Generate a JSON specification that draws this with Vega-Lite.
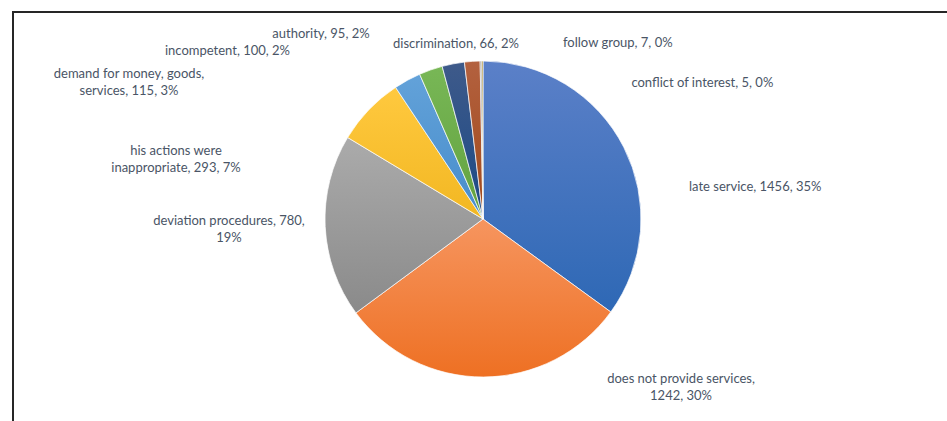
{
  "$schema": "https://vega.github.io/schema/vega-lite/v6.json",
  "width": 940,
  "height": 414,
  "autosize": {"type": "none"},
  "padding": {"left": 13, "top": 12, "right": 0, "bottom": 0},
  "background": "white",
  "config": {"view": {"stroke": "#262626", "strokeWidth": 2}},
  "data": {
    "values": [
      {"category": "late service", "value": 1456, "label": "late service, 1456, 35%"},
      {"category": "does not provide services", "value": 1242, "label": "does not provide services,\n1242, 30%"},
      {"category": "deviation procedures", "value": 780, "label": "deviation procedures, 780,\n19%"},
      {"category": "his actions were inappropriate", "value": 293, "label": "his actions were\ninappropriate, 293, 7%"},
      {"category": "demand for money, goods, services", "value": 115, "label": "demand for money, goods,\nservices, 115, 3%"},
      {"category": "incompetent", "value": 100, "label": "incompetent, 100, 2%"},
      {"category": "authority", "value": 95, "label": "authority, 95, 2%"},
      {"category": "discrimination", "value": 66, "label": "discrimination, 66, 2%"},
      {"category": "follow group", "value": 7, "label": "follow group, 7, 0%"},
      {"category": "conflict of interest", "value": 5, "label": "conflict of interest, 5, 0%"}
    ]
  },
  "encoding": {
    "theta": {"field": "value", "type": "quantitative", "stack": true},
    "order": {"field": "value", "type": "quantitative", "sort": "descending"}
  },
  "layer": [
    {
      "data": {"values": [{"frame": "border"}]},
      "mark": {"type": "rect", "fill": null, "stroke": "#262626", "strokeWidth": 2},
      "encoding": {"theta": null, "order": null}
    },
    {
      "mark": {"type": "arc", "outerRadius": 158, "stroke": "#ffffff", "strokeWidth": 0.7},
      "encoding": {
        "fill": {
          "condition": [
            {"test": "datum.category === 'late service'", "value": {"gradient": "linear", "x1": 0, "y1": 0, "x2": 0, "y2": 1, "stops": [{"offset": 0, "color": "#5B80C8"}, {"offset": 1, "color": "#2E68B5"}]}},
            {"test": "datum.category === 'does not provide services'", "value": {"gradient": "linear", "x1": 0, "y1": 0, "x2": 0, "y2": 1, "stops": [{"offset": 0, "color": "#F6955F"}, {"offset": 1, "color": "#EE7023"}]}},
            {"test": "datum.category === 'deviation procedures'", "value": {"gradient": "linear", "x1": 0, "y1": 0, "x2": 0, "y2": 1, "stops": [{"offset": 0, "color": "#ABABAB"}, {"offset": 1, "color": "#8A8A8A"}]}},
            {"test": "datum.category === 'his actions were inappropriate'", "value": {"gradient": "linear", "x1": 0, "y1": 0, "x2": 0, "y2": 1, "stops": [{"offset": 0, "color": "#FFC93F"}, {"offset": 1, "color": "#F2B722"}]}},
            {"test": "datum.category === 'demand for money, goods, services'", "value": {"gradient": "linear", "x1": 0, "y1": 0, "x2": 0, "y2": 1, "stops": [{"offset": 0, "color": "#63A2D9"}, {"offset": 1, "color": "#468CCB"}]}},
            {"test": "datum.category === 'incompetent'", "value": {"gradient": "linear", "x1": 0, "y1": 0, "x2": 0, "y2": 1, "stops": [{"offset": 0, "color": "#78B756"}, {"offset": 1, "color": "#62A23F"}]}},
            {"test": "datum.category === 'authority'", "value": {"gradient": "linear", "x1": 0, "y1": 0, "x2": 0, "y2": 1, "stops": [{"offset": 0, "color": "#3E5A8A"}, {"offset": 1, "color": "#1C4A86"}]}},
            {"test": "datum.category === 'discrimination'", "value": {"gradient": "linear", "x1": 0, "y1": 0, "x2": 0, "y2": 1, "stops": [{"offset": 0, "color": "#B3613F"}, {"offset": 1, "color": "#A0481A"}]}},
            {"test": "datum.category === 'follow group'", "value": "#7F7F7F"},
            {"test": "datum.category === 'conflict of interest'", "value": "#997300"}
          ],
          "value": "#999999"
        }
      }
    },
    {
      "mark": {"type": "text", "radius": 170, "dx": 54.5, "dy": 45, "align": "left", "baseline": "middle", "font": "Lato", "fontSize": 13, "fill": "#4A5566", "lineBreak": "\n", "lineHeight": 17},
      "encoding": {"text": {"condition": {"test": "datum.category === 'late service'", "field": "label"}, "value": ""}}
    },
    {
      "mark": {"type": "text", "radius": 170, "dx": 197.4, "dy": -10, "align": "center", "baseline": "middle", "font": "Lato", "fontSize": 13, "fill": "#4A5566", "lineBreak": "\n", "lineHeight": 17},
      "encoding": {"text": {"condition": {"test": "datum.category === 'does not provide services'", "field": "label"}, "value": ""}}
    },
    {
      "mark": {"type": "text", "radius": 170, "dx": -84.2, "dy": -6, "align": "center", "baseline": "middle", "font": "Lato", "fontSize": 13, "fill": "#4A5566", "lineBreak": "\n", "lineHeight": 17},
      "encoding": {"text": {"condition": {"test": "datum.category === 'deviation procedures'", "field": "label"}, "value": ""}}
    },
    {
      "mark": {"type": "text", "radius": 170, "dx": -184.2, "dy": 49.5, "align": "center", "baseline": "middle", "font": "Lato", "fontSize": 13, "fill": "#4A5566", "lineBreak": "\n", "lineHeight": 17},
      "encoding": {"text": {"condition": {"test": "datum.category === 'his actions were inappropriate'", "field": "label"}, "value": ""}}
    },
    {
      "mark": {"type": "text", "radius": 170, "dx": -272.6, "dy": 4.3, "align": "center", "baseline": "middle", "font": "Lato", "fontSize": 13, "fill": "#4A5566", "lineBreak": "\n", "lineHeight": 17},
      "encoding": {"text": {"condition": {"test": "datum.category === 'demand for money, goods, services'", "field": "label"}, "value": ""}}
    },
    {
      "mark": {"type": "text", "radius": 170, "dx": -199.3, "dy": -7.6, "align": "center", "baseline": "middle", "font": "Lato", "fontSize": 13, "fill": "#4A5566", "lineBreak": "\n", "lineHeight": 17},
      "encoding": {"text": {"condition": {"test": "datum.category === 'incompetent'", "field": "label"}, "value": ""}}
    },
    {
      "mark": {"type": "text", "radius": 170, "dx": -130, "dy": -18, "align": "center", "baseline": "middle", "font": "Lato", "fontSize": 13, "fill": "#4A5566", "lineBreak": "\n", "lineHeight": 17},
      "encoding": {"text": {"condition": {"test": "datum.category === 'authority'", "field": "label"}, "value": ""}}
    },
    {
      "mark": {"type": "text", "radius": 170, "dx": -15.5, "dy": -5.6, "align": "center", "baseline": "middle", "font": "Lato", "fontSize": 13, "fill": "#4A5566", "lineBreak": "\n", "lineHeight": 17},
      "encoding": {"text": {"condition": {"test": "datum.category === 'discrimination'", "field": "label"}, "value": ""}}
    },
    {
      "mark": {"type": "text", "radius": 170, "dx": 137, "dy": -6.5, "align": "center", "baseline": "middle", "font": "Lato", "fontSize": 13, "fill": "#4A5566", "lineBreak": "\n", "lineHeight": 17},
      "encoding": {"text": {"condition": {"test": "datum.category === 'follow group'", "field": "label"}, "value": ""}}
    },
    {
      "mark": {"type": "text", "radius": 170, "dx": 220, "dy": 34, "align": "center", "baseline": "middle", "font": "Lato", "fontSize": 13, "fill": "#4A5566", "lineBreak": "\n", "lineHeight": 17},
      "encoding": {"text": {"condition": {"test": "datum.category === 'conflict of interest'", "field": "label"}, "value": ""}}
    }
  ]
}
